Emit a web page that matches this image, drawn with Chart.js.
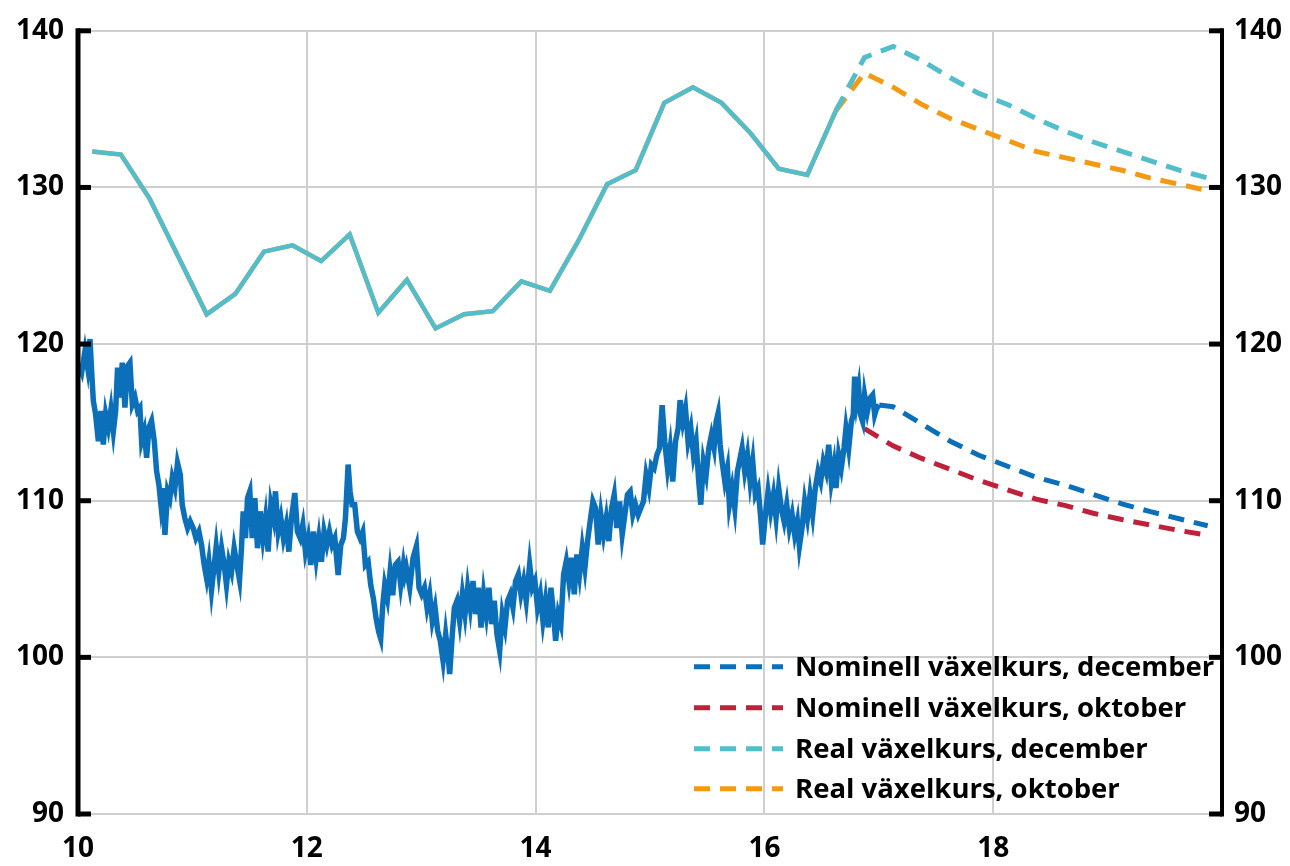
<!DOCTYPE html>
<html>
<head>
<meta charset="utf-8">
<script src="https://cdn.jsdelivr.net/npm/chart.js@4.4.1/dist/chart.umd.min.js"></script>
<style>
  html, body { margin: 0; padding: 0; background: #ffffff; }
  #wrap { position: relative; width: 1290px; height: 866px; }
</style>
</head>
<body>
<div id="wrap"><canvas id="c"></canvas></div>
<script>
// ---------- DATA ----------
const xTicks = [10, 12, 14, 16, 18];
const yTicks = [90, 100, 110, 120, 130, 140];

const legendLabels = [
  "Nominell växelkurs, december",
  "Nominell växelkurs, oktober",
  "Real växelkurs, december",
  "Real växelkurs, oktober"
];

// Nominal exchange rate, daily history (year, index)
const nomHistYears = [
10.003,10.032,10.061,10.084,10.105,10.119,10.134,10.154,10.178,10.201,10.221,10.242,10.265,10.288,10.309,10.329,10.346,10.367,10.387,10.410,
10.434,10.454,10.475,10.498,10.521,10.541,10.556,10.579,10.600,10.620,10.643,10.667,10.687,10.707,10.725,10.742,10.760,10.783,10.803,10.824,
10.847,10.870,10.894,10.911,10.934,10.958,10.981,11.007,11.031,11.057,11.080,11.103,11.124,11.144,11.167,11.191,11.208,11.231,11.255,11.278,
11.298,11.319,11.342,11.365,11.389,11.412,11.429,11.444,11.464,11.482,11.502,11.523,11.546,11.569,11.592,11.616,11.639,11.662,11.686,11.709,
11.726,11.750,11.773,11.796,11.820,11.843,11.866,11.895,11.918,11.942,11.965,11.988,12.012,12.035,12.058,12.082,12.105,12.128,12.151,12.175,
12.198,12.221,12.245,12.274,12.297,12.320,12.338,12.361,12.378,12.396,12.419,12.442,12.466,12.489,12.512,12.536,12.559,12.582,12.606,12.629,
12.646,12.664,12.681,12.705,12.728,12.751,12.774,12.798,12.821,12.844,12.856,
12.870,12.900,12.929,12.958,12.981,13.004,13.028,13.051,13.074,13.097,13.121,13.144,13.167,13.191,13.214,13.231,13.249,13.272,13.290,13.313,
13.336,13.360,13.383,13.406,13.429,13.453,13.476,13.499,13.523,13.546,13.569,13.592,13.616,13.639,13.662,13.686,13.709,13.732,13.755,13.779,
13.802,13.825,13.849,13.872,13.895,13.918,13.948,13.971,13.994,14.017,14.041,14.064,14.087,14.111,14.134,14.157,14.175,14.198,14.221,14.245,
14.268,14.291,14.314,14.338,14.361,14.384,14.408,14.431,14.454,14.477,14.501,14.524,14.547,14.571,14.594,14.617,14.640,14.664,14.687,14.710,
14.734,14.757,14.780,14.803,14.827,14.850,14.873,14.897,14.920,14.943,14.966,14.990,15.013,15.036,15.060,15.083,15.106,15.129,15.153,15.176,
15.199,15.223,15.246,15.263,15.287,15.310,15.333,15.357,15.380,15.403,15.426,
15.444,15.467,15.491,15.514,15.537,15.560,15.578,15.595,15.613,15.630,15.654,15.677,15.694,15.718,15.741,15.764,15.782,15.805,15.828,15.852,
15.875,15.898,15.921,15.945,15.968,15.985,16.009,16.032,16.055,16.079,16.102,16.125,16.148,16.172,16.195,16.218,16.242,16.265,16.288,16.306,
16.329,16.352,16.376,16.399,16.422,16.445,16.469,16.492,16.515,16.539,16.562,16.585,16.608,16.626,16.649,16.672,16.696,16.713,16.737,16.760,
16.777,16.789,16.806,16.824,16.841,16.859,16.876,16.900,16.923,16.946,16.964,16.981,17.004
];
const nomHistValues = [
118.72,118.18,119.57,118.50,120.32,118.29,116.37,115.51,113.80,115.73,113.59,115.51,114.66,115.83,114.44,115.73,118.50,116.58,118.82,115.94,
118.61,118.82,116.15,116.58,115.73,115.94,113.80,114.44,112.74,114.66,115.09,113.80,111.88,111.03,109.74,110.81,107.82,110.60,110.17,111.45,
110.81,112.41,111.67,109.74,108.89,108.25,108.68,108.25,107.61,108.03,107.18,105.90,105.04,106.11,104.29,105.90,107.07,105.47,106.97,105.90,
104.62,106.11,105.47,106.97,105.90,104.94,106.97,109.32,107.61,110.17,110.60,107.61,110.17,106.97,109.32,107.61,108.89,106.75,109.74,108.89,
110.60,108.03,108.89,107.61,108.46,106.75,108.89,110.49,108.03,107.61,108.46,106.75,107.61,105.90,108.03,106.32,107.61,106.11,108.03,107.18,
108.03,107.18,107.61,105.26,107.18,107.61,108.89,112.31,110.60,109.74,109.74,108.03,107.61,108.03,105.90,106.11,104.62,103.76,102.48,101.62,
101.20,103.33,104.62,103.76,105.47,103.97,105.90,106.11,104.62,105.90,105.26,
105.72,104.45,106.36,107.10,104.45,104.03,104.45,103.18,104.03,102.33,103.18,101.69,101.06,99.79,101.48,100.42,98.94,101.48,103.18,103.61,
102.33,104.03,102.76,104.45,103.18,104.87,102.76,104.45,101.91,104.03,102.76,104.45,102.12,103.61,101.48,100.42,102.76,101.91,103.61,104.03,
103.18,104.87,105.30,104.03,104.87,103.61,105.93,104.45,104.87,103.18,104.03,102.33,103.61,101.91,104.45,102.76,101.06,102.76,102.12,105.30,
106.14,104.87,106.36,104.03,106.57,105.30,106.99,105.72,107.42,108.69,109.96,109.53,107.20,109.11,107.84,108.90,107.42,109.53,110.38,108.26,
109.96,107.84,109.11,110.38,110.59,109.11,109.75,109.11,109.53,109.96,111.65,110.81,112.29,112.08,112.92,113.35,116.10,113.77,112.08,113.35,
111.23,113.77,114.62,116.42,115.04,115.89,113.77,114.62,112.92,113.77,111.23,
109.75,112.51,111.66,113.36,114.20,113.36,115.05,115.58,113.57,112.51,111.23,112.08,109.75,110.81,109.53,111.87,112.51,113.36,111.87,112.93,
111.23,112.51,110.38,110.81,108.90,107.20,109.11,110.59,109.32,110.38,108.90,110.81,109.53,108.68,109.75,108.26,109.11,107.83,108.68,107.09,
108.26,109.96,108.90,110.38,109.11,110.81,111.87,111.23,112.51,111.87,113.57,111.23,112.29,110.81,112.93,112.08,113.36,114.63,113.36,115.05,
115.48,117.92,116.33,117.18,115.48,115.05,116.75,115.69,116.54,116.75,115.48,115.90,116.11
];

// Forecast quarters (mid-quarter positions)
const forecastYears = [16.875,17.125,17.375,17.625,17.875,18.125,18.375,18.625,18.875,19.125,19.375,19.625,19.875];
const nomDecForecast = [null,116.0,114.9,113.8,112.9,112.2,111.5,111.0,110.4,109.8,109.3,108.85,108.4];
const nomOctForecast = [114.6,113.5,112.7,112.0,111.3,110.7,110.1,109.7,109.2,108.8,108.45,108.1,107.8];

// Real exchange rate, quarterly history
const realHistYears = [10.125,10.375,10.625,10.875,11.125,11.375,11.625,11.875,12.125,12.375,12.625,12.875,13.125,13.375,
  13.625,13.875,14.125,14.375,14.625,14.875,15.125,15.375,15.625,15.875,16.125,16.375,16.625];
const realHistValues = [132.3,132.1,129.3,125.6,121.9,123.2,125.9,126.3,125.3,127.0,122.0,124.1,121.0,121.9,
  122.1,124.0,123.4,126.6,130.2,131.1,135.4,136.4,135.4,133.5,131.2,130.8,134.9];
const realDecForecast = [138.3,139.0,138.1,137.0,136.0,135.3,134.4,133.6,132.9,132.3,131.7,131.1,130.6];
const realOctForecast = [137.3,136.4,135.3,134.4,133.7,133.0,132.3,131.9,131.5,131.1,130.6,130.2,129.8];

// ---------- BUILD ----------
function pts(xs, ys) {
  const out = [];
  for (let i = 0; i < xs.length; i++) if (ys[i] !== null) out.push({x: xs[i], y: ys[i]});
  return out;
}
const nomDecData = pts(nomHistYears, nomHistValues).concat(pts(forecastYears, nomDecForecast));
const nomOctData = pts(forecastYears, nomOctForecast);
const realDecData = pts(realHistYears, realHistValues).concat(pts(forecastYears, realDecForecast));
const realOctData = pts(realHistYears, realHistValues).concat(pts(forecastYears, realOctForecast));

const COLORS = { nomDec: '#0B6FBA', nomOct: '#C0213A', realDec: '#52BDCB', realOct: '#F39A12' };
const DASH = [16, 10];
const FONT = '"Open Sans", "Noto Sans", sans-serif';

function histSegment(histLen, histWidth) {
  return {
    borderDash: ctx => ctx.p0DataIndex < histLen - 1 ? [] : undefined,
    borderWidth: ctx => ctx.p0DataIndex < histLen - 1 ? histWidth : undefined
  };
}

const axisPlugin = {
  id: 'axisPlugin',
  afterDraw(chart) {
    const ctx = chart.ctx;
    const ca = chart.chartArea;
    const yL = chart.scales.y;
    ctx.save();
    ctx.strokeStyle = '#000';
    ctx.lineCap = 'butt';
    ctx.lineWidth = 5;
    ctx.beginPath(); ctx.moveTo(ca.left, ca.top - 2.5); ctx.lineTo(ca.left, ca.bottom + 2.5); ctx.stroke();
    ctx.lineWidth = 4;
    ctx.beginPath(); ctx.moveTo(ca.right, ca.top - 2.5); ctx.lineTo(ca.right, ca.bottom + 2.5); ctx.stroke();
    ctx.lineWidth = 5;
    yTicks.forEach(v => {
      const py = yL.getPixelForValue(v);
      ctx.beginPath(); ctx.moveTo(ca.left, py); ctx.lineTo(ca.left + 13, py); ctx.stroke();
      ctx.beginPath(); ctx.moveTo(ca.right, py); ctx.lineTo(ca.right - 13, py); ctx.stroke();
    });
    ctx.restore();

    // legend (inside plot, bottom right)
    ctx.save();
    const x0 = ca.left + 616, x1 = ca.left + 705, tx = ca.left + 717;
    const rows = [ca.top + 636, ca.top + 677, ca.top + 718, ca.top + 758];
    ctx.font = 'bold 27.5px ' + FONT;
    ctx.textBaseline = 'middle';
    ctx.fillStyle = '#000';
    chart.data.datasets.forEach((ds, i) => {
      const y = rows[i];
      ctx.strokeStyle = ds.borderColor;
      ctx.lineWidth = 5;
      ctx.setLineDash(DASH);
      ctx.beginPath(); ctx.moveTo(x0, y); ctx.lineTo(x1, y); ctx.stroke();
      ctx.setLineDash([]);
      ctx.fillText(ds.label, tx, y + 1);
    });
    ctx.restore();
  }
};

const tickFont = { family: FONT, size: 28, weight: 'bold' };

new Chart(document.getElementById('c'), {
  type: 'line',
  data: {
    datasets: [
      { label: legendLabels[0], data: nomDecData, borderColor: COLORS.nomDec, backgroundColor: COLORS.nomDec,
        borderWidth: 5, borderDash: DASH, segment: histSegment(nomHistYears.length, 5.5) },
      { label: legendLabels[1], data: nomOctData, borderColor: COLORS.nomOct, backgroundColor: COLORS.nomOct,
        borderWidth: 5, borderDash: DASH },
      { label: legendLabels[2], data: realDecData, borderColor: COLORS.realDec, backgroundColor: COLORS.realDec,
        borderWidth: 5, borderDash: DASH, segment: histSegment(realHistYears.length, 4.5) },
      { label: legendLabels[3], data: realOctData, borderColor: COLORS.realOct, backgroundColor: COLORS.realOct,
        borderWidth: 5, borderDash: DASH, segment: histSegment(realHistYears.length, 4.5) }
    ]
  },
  options: {
    responsive: true,
    maintainAspectRatio: false,
    animation: false,
    events: [],
    elements: { point: { radius: 0 }, line: { tension: 0, borderJoinStyle: 'miter' } },
    layout: { padding: { top: 28, left: 0, right: 0, bottom: 0 } },
    plugins: { legend: { display: false }, tooltip: { enabled: false } },
    scales: {
      x: {
        type: 'linear', min: 10, max: 20,
        afterBuildTicks: s => { s.ticks = xTicks.concat([20]).map(v => ({ value: v })); },
        ticks: { font: tickFont, color: '#000', padding: 18, maxRotation: 0,
                 callback: v => (xTicks.includes(v) ? String(v) : '') },
        grid: { color: '#cfcfcf', lineWidth: 2, drawTicks: false },
        border: { display: false },
        afterFit: s => { s.height = 52; }
      },
      y: {
        position: 'left', min: 90, max: 140,
        afterBuildTicks: s => { s.ticks = yTicks.map(v => ({ value: v })); },
        ticks: { font: tickFont, color: '#000', padding: 14 },
        grid: { color: '#cfcfcf', lineWidth: 2, drawTicks: false },
        border: { display: false },
        afterFit: s => { s.width = 78; }
      },
      y2: {
        position: 'right', min: 90, max: 140,
        afterBuildTicks: s => { s.ticks = yTicks.map(v => ({ value: v })); },
        ticks: { font: tickFont, color: '#000', padding: 12 },
        grid: { display: false, drawTicks: false },
        border: { display: false },
        afterFit: s => { s.width = 68; }
      }
    }
  },
  plugins: [axisPlugin]
});
</script>
</body>
</html>
